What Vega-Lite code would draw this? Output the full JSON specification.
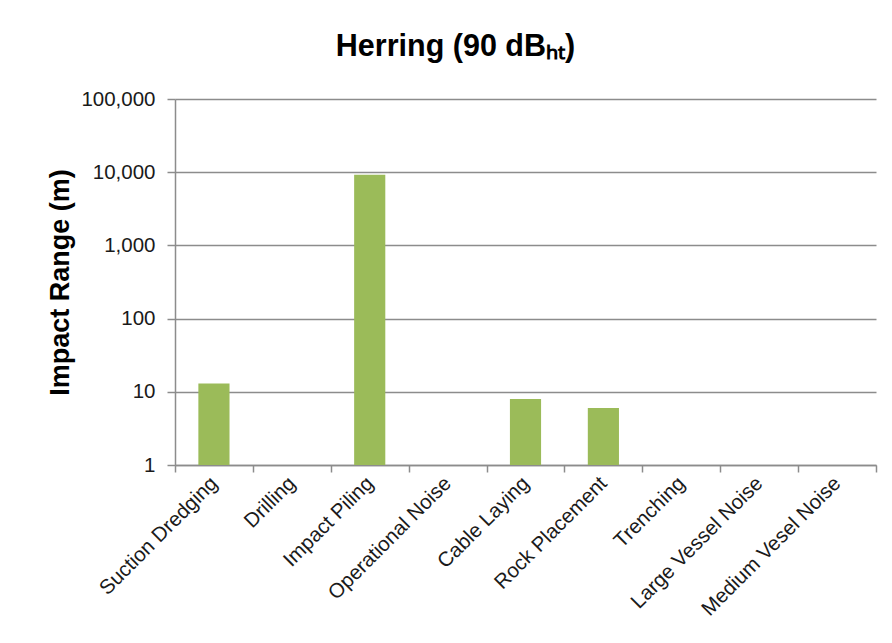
{
  "$schema": "https://vega.github.io/schema/vega-lite/v6.json",
  "autosize": "none",
  "width": 701,
  "height": 366,
  "padding": {"left": 175, "top": 99, "right": 16, "bottom": 178},
  "background": "white",
  "title": {
    "text": "Herring (90 dBₕₜ)",
    "font": "Liberation Sans",
    "fontSize": 30.5,
    "fontWeight": "bold",
    "color": "#000000",
    "anchor": "middle",
    "dx": -70,
    "offset": 27
  },
  "data": {
    "values": [
      {"activity": "Suction Dredging", "impact": 13},
      {"activity": "Drilling", "impact": null},
      {"activity": "Impact Piling", "impact": 9200},
      {"activity": "Operational Noise", "impact": null},
      {"activity": "Cable Laying", "impact": 8},
      {"activity": "Rock Placement", "impact": 6},
      {"activity": "Trenching", "impact": null},
      {"activity": "Large Vessel Noise", "impact": null},
      {"activity": "Medium Vesel Noise", "impact": null}
    ]
  },
  "mark": {"type": "bar", "color": "#9BBB59", "width": {"band": 0.4}},
  "encoding": {
    "x": {
      "field": "activity",
      "type": "nominal",
      "sort": null,
      "scale": {
        "domain": ["Suction Dredging", "Drilling", "Impact Piling", "Operational Noise", "Cable Laying", "Rock Placement", "Trenching", "Large Vessel Noise", "Medium Vesel Noise"],
        "paddingInner": 0,
        "paddingOuter": 0
      },
      "axis": {
        "title": null,
        "labelAngle": -45,
        "labelAlign": "right",
        "labelBaseline": "middle",
        "labelPadding": 8,
        "labelFont": "Liberation Sans",
        "labelFontSize": 20.5,
        "labelColor": "#1a1a1a",
        "labelLimit": 300,
        "domainColor": "#8c8c8c",
        "domainWidth": 1.5,
        "tickColor": "#8c8c8c",
        "tickWidth": 1.5,
        "tickSize": 7,
        "tickBand": "extent",
        "grid": false
      }
    },
    "y": {
      "field": "impact",
      "type": "quantitative",
      "scale": {"type": "log", "domain": [1, 100000], "nice": false},
      "axis": {
        "title": "Impact Range (m)",
        "titleFont": "Liberation Sans",
        "titleFontSize": 27,
        "titleFontWeight": "bold",
        "titleColor": "#000000",
        "titlePadding": 6,
        "values": [1, 10, 100, 1000, 10000, 100000],
        "format": ",d",
        "labelFont": "Liberation Sans",
        "labelFontSize": 20.5,
        "labelColor": "#1a1a1a",
        "labelPadding": 12,
        "domainColor": "#8c8c8c",
        "domainWidth": 1.5,
        "tickColor": "#8c8c8c",
        "tickWidth": 1.5,
        "tickSize": 8,
        "gridColor": "#8c8c8c",
        "gridWidth": 1.5
      }
    },
    "y2": {"datum": 1}
  },
  "config": {
    "view": {"stroke": null}
  }
}
